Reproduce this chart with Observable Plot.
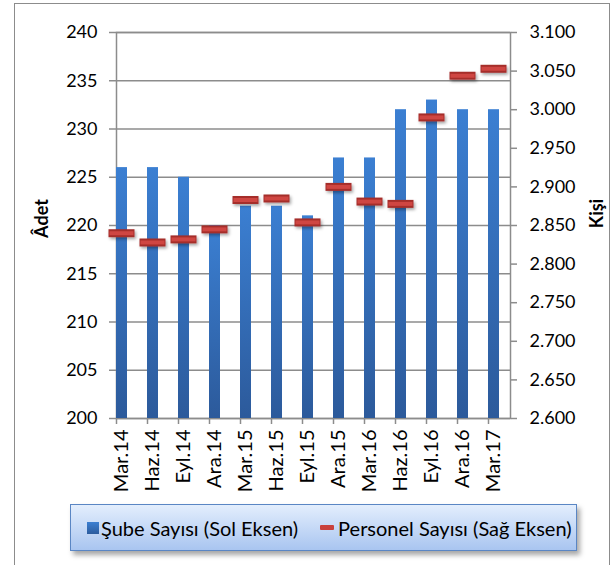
<!DOCTYPE html>
<html>
<head>
<meta charset="utf-8">
<script src="https://cdn.jsdelivr.net/npm/d3@7"></script>
<script src="https://cdn.jsdelivr.net/npm/@observablehq/plot@0.6"></script>
<style>
  html, body { margin: 0; padding: 0; background: #fff; }
  #wrap { position: relative; width: 614px; height: 565px; overflow: hidden; font-family: Lato, sans-serif; }
  #border { position: absolute; left: 14px; top: 3px; width: 596px; height: 620px; border: 1.5px solid #8c8c8c; box-sizing: border-box; }
  #chart { position: absolute; left: 0; top: 0; }
  #legend { position: absolute; left: 70px; top: 504px; width: 507px; height: 47px; box-sizing: border-box;
    border: 1.5px solid #5a86c4; background: linear-gradient(#e3eefd, #a9c5f0);
    box-shadow: 3px 4px 5px rgba(0,0,0,0.35); display: flex; align-items: center; font-size: 20px; color: #000; white-space: nowrap; }
  .sw1 { display: inline-block; width: 12px; height: 12px; background: linear-gradient(#3b7fd2, #2c5c9e); margin-left: 16px; margin-right: 2px; }
  .sw2 { display: inline-block; width: 14px; height: 5px; background: #c9413d; border-radius: 1px; margin-left: 22px; margin-right: 4px; }
</style>
</head>
<body>
<div id="wrap">
  <div id="border"></div>
  <div id="chart"></div>
  <div id="legend"><span class="sw1"></span><span>Şube Sayısı (Sol Eksen)</span><span class="sw2"></span><span>Personel Sayısı (Sağ Eksen)</span></div>
</div>
<script>
const categories = ["Mar.14","Haz.14","Eyl.14","Ara.14","Mar.15","Haz.15","Eyl.15","Ara.15","Mar.16","Haz.16","Eyl.16","Ara.16","Mar.17"];
const subeSayisi = [226,226,225,220,222,222,221,227,227,232,233,232,232];
const personelSayisi = [2840,2828,2832,2845,2883,2885,2854,2900,2881,2878,2990,3044,3053];
const leftTicks = [200,205,210,215,220,225,230,235,240];
const rightTicks = [2600,2650,2700,2750,2800,2850,2900,2950,3000,3050,3100];

const rows = categories.map((c, i) => ({cat: c, sube: subeSayisi[i], pers: personelSayisi[i]}));
const toLeft = p => 200 + (p - 2600) * 40 / 500;
const fromLeft = y => 2600 + (y - 200) * 500 / 40;
const trFmt = d3.formatLocale({decimal: ",", thousands: ".", grouping: [3], currency: ["", ""]}).format(",.0f");
const grey = "#8c8c8c";

const plot = Plot.plot({
  width: 614, height: 495,
  marginLeft: 116, marginRight: 104, marginTop: 32, marginBottom: 77,
  style: {fontFamily: "Lato, sans-serif", fontSize: "18px", color: "#000", background: "transparent", overflow: "visible"},
  x: {type: "band", domain: categories, paddingInner: 0.655, paddingOuter: 0, align: 0, axis: null},
  y: {domain: [200, 240], axis: null},
  marks: [
    Plot.ruleY(leftTicks, {stroke: grey, strokeWidth: 1.5}),
    Plot.frame({stroke: grey, strokeWidth: 1.5}),
    Plot.barY(rows, {x: "cat", y1: 200, y2: "sube", fill: "url(#barGrad)"}),
    Plot.axisY({anchor: "left", ticks: leftTicks, tickSize: 7, tickPadding: 12, label: null, stroke: grey, strokeWidth: 1.5}),
    Plot.axisY({anchor: "right", ticks: rightTicks.map(toLeft), tickFormat: y => trFmt(Math.round(fromLeft(y))), tickSize: 6, tickPadding: 13, label: null, stroke: grey, strokeWidth: 1.5}),
    Plot.ruleX(categories, {x: d => d, y1: 200, y2: 200 - 6 * 40 / 386, dx: -5.5, stroke: grey, strokeWidth: 1.5}),
    Plot.text(categories, {x: d => d, y: 200, text: d => d, rotate: -90, textAnchor: "end", dy: 11, fontSize: 20}),
    Plot.tickY(rows, {x: "cat", y: d => toLeft(d.pers), stroke: "#a52f2c", strokeWidth: 8, insetLeft: -7.5, insetRight: -7.5}),
    Plot.tickY(rows, {x: "cat", y: d => toLeft(d.pers), stroke: "#cf4642", strokeWidth: 4, insetLeft: -6.5, insetRight: -6.5}),
    Plot.text(["Âdet"], {frameAnchor: "left", textAnchor: "middle", dx: -74, dy: -7, rotate: -90, fontWeight: "bold", fontSize: 18}),
    Plot.text(["Kişi"], {frameAnchor: "right", textAnchor: "middle", dx: 87, dy: -12, rotate: -90, fontWeight: "bold", fontSize: 18})
  ]
});

d3.select(plot).insert("defs", ":first-child").html(`
  <linearGradient id="barGrad" x1="0" y1="0" x2="0" y2="1" gradientUnits="objectBoundingBox">
    <stop offset="0" stop-color="#3b7fd2"/>
    <stop offset="1" stop-color="#2c5a9b"/>
  </linearGradient>
  <filter id="shadow" x="-30%" y="-100%" width="160%" height="300%">
    <feDropShadow dx="1.5" dy="2" stdDeviation="1.5" flood-color="#000" flood-opacity="0.35"/>
  </filter>`);
d3.select(plot).selectAll("g[aria-label='tick']").filter((d, i) => i === 0).attr("filter", "url(#shadow)");

document.getElementById("chart").appendChild(plot);
</script>
</body>
</html>
